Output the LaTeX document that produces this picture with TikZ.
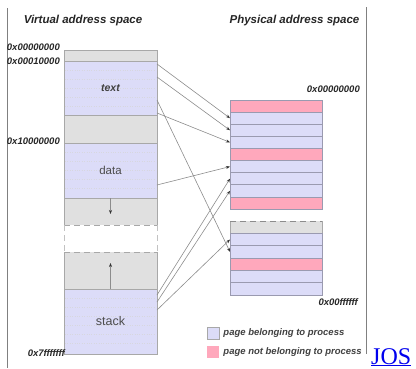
\documentclass[tikz,border=0pt]{standalone}
\usepackage{fontspec}
\setmainfont{Liberation Sans}
\newfontfamily\linkfont{Liberation Serif}
\usepackage{tikz}
\usetikzlibrary{arrows.meta,positioning}

\definecolor{pageown}{HTML}{DCDCF8}
\definecolor{pageother}{HTML}{FFA8BC}
\definecolor{unused}{HTML}{E0E0E0}
\definecolor{blockline}{HTML}{A8A8A8}
\definecolor{rowline}{HTML}{9A9AB0}
\definecolor{linkblue}{HTML}{0000EE}

\begin{document}
\begin{tikzpicture}[x=1pt,y=-1pt,
    >={Stealth[length=4pt,width=3pt,color=black!80]},
    map/.style={->,draw=black!45,line width=0.6pt},
    vblock/.style={draw=blockline,line width=0.6pt,minimum width=93pt,inner sep=0pt,outer sep=0pt,
                   font=\fontsize{11}{11}\selectfont,text=black!75},
    prow/.style={draw=rowline,line width=0.6pt,minimum width=92pt,minimum height=12.1pt,inner sep=0pt,outer sep=0pt},
    dashpat/.style={dash pattern=on 6pt off 4pt},
    pagegrid/.style={draw=rowline!40,dotted,line width=0.4pt},
    addr/.style={font=\bfseries\itshape\fontsize{9.5}{10}\selectfont,text=black!85,inner sep=0pt},
    heading/.style={font=\bfseries\itshape\fontsize{11.5}{12}\selectfont,text=black!85,inner sep=0pt},
    keybox/.style={draw=blockline,line width=0.5pt,minimum size=12pt,inner sep=0pt},
    keytext/.style={font=\bfseries\itshape\fontsize{9.5}{10}\selectfont,text=black!75,inner sep=0pt}]
  \useasboundingbox (0,0) rectangle (416,368);

  % side rules
  \draw[black!50,line width=0.8pt] (7,8) -- (7,368);
  \draw[black!50,line width=0.8pt] (366,7) -- (366,354);

  \node[heading] (vtitle) at (83,21) {Virtual address space};
  \node[heading] (ptitle) at (294.5,21) {Physical address space};

  % virtual address space
  \node[vblock,fill=unused,minimum height=11pt] (hdr) at (110.5,55.5) {};
  \node[vblock,fill=pageown,minimum height=54pt] (text) at (110.5,88) {};
  \node[vblock,fill=unused,minimum height=28pt] (gap) at (110.5,129) {};
  \node[vblock,fill=pageown,minimum height=55pt] (data) at (110.5,170.5) {};
  \node[vblock,fill=unused,draw=none,minimum height=27pt] (heap) at (110.5,211.5) {};
  \node[vblock,fill=unused,draw=none,minimum height=37pt] (grow) at (110.5,270.5) {};
  \node[vblock,fill=pageown,minimum height=65pt] (stack) at (110.5,321.5) {};

  \foreach \y in {70,79,...,106} \draw[pagegrid] (65,\y) -- (156,\y);
  \foreach \y in {152,161,...,189} \draw[pagegrid] (65,\y) -- (156,\y);
  \foreach \y in {298,307,...,345} \draw[pagegrid] (65,\y) -- (156,\y);

  \node[font=\bfseries\itshape\fontsize{10.5}{11}\selectfont,text=black!75] at (text) {text};
  \node[font=\fontsize{11.5}{12}\selectfont,text=black!70] at (data) {data};
  \node[font=\fontsize{12.5}{13}\selectfont,text=black!70] at (stack) {stack};

  \draw[blockline,line width=0.6pt] (heap.south west) -- (heap.north west) -- (heap.north east) -- (heap.south east);
  \draw[blockline,line width=0.6pt,dashpat] (heap.south west) -- (heap.south east);
  \draw[blockline!70,line width=0.6pt,dashpat] (heap.south west) -- (grow.north west);
  \draw[blockline!70,line width=0.6pt,dashpat] (heap.south east) -- (grow.north east);
  \draw[blockline,line width=0.6pt] (grow.north west) -- (grow.south west) -- (grow.south east) -- (grow.north east);
  \draw[blockline,line width=0.6pt,dashpat] (grow.north west) -- (grow.north east);

  \coordinate (heapend) at (110.5,214);
  \coordinate (growend) at (110.5,263);
  \draw[map] (heap.north) -- (heapend);
  \draw[map] (grow.south) -- (growend);

  \node[addr,anchor=east] (v0) at (60,47) {0x00000000};
  \node[addr,anchor=east] (v1) at (60,61.5) {0x00010000};
  \node[addr,anchor=east] (v2) at (60,141) {0x10000000};
  \node[addr,anchor=east] (v3) at (65,353) {0x7fffffff};

  % physical address space
  \foreach \i/\c in {1/pageother,2/pageown,3/pageown,4/pageown,5/pageother,6/pageown,7/pageown,8/pageown,9/pageother}
    \node[prow,fill=\c] (pg\i) at (276,{100+12.1*\i-6.05}) {};
  \node[prow,fill=unused,draw=none,minimum height=12.33pt] (lo1) at (276,227.17) {};
  \foreach \i/\c in {2/pageown,3/pageown,4/pageother,5/pageown,6/pageown}
    \node[prow,fill=\c,minimum height=12.33pt] (lo\i) at (276,{221+12.33*\i-6.17}) {};
  \draw[blockline,line width=0.6pt] (lo1.north west) -- (lo1.south west);
  \draw[blockline,line width=0.6pt] (lo1.north east) -- (lo1.south east);
  \draw[black!45,line width=0.6pt,dashpat] (lo1.north west) -- (lo1.north east);

  \node[addr,anchor=east] (p0) at (360,89) {0x00000000};
  \node[addr,anchor=east] (p1) at (358,302) {0x00ffffff};

  % page mappings
  \coordinate (t1) at (157,64);
  \coordinate (t2) at (157,77);
  \coordinate (t3) at (157,100);
  \coordinate (t4) at (157,113);
  \coordinate (d1) at (157,185);
  \coordinate (s1) at (157,295);
  \coordinate (s2) at (157,302);
  \coordinate (s3) at (157,310);
  \draw[map] (t1) -- (pg2.west);
  \draw[map] (t2) -- (pg3.west);
  \draw[map] (t4) -- (pg4.west);
  \draw[map] (t3) -- (lo3.west);
  \draw[map] (d1) -- (pg6.west);
  \draw[map] (s1) -- (pg7.west);
  \draw[map] (s2) -- (pg8.west);
  \draw[map] (s3) -- (lo2.west);

  % key
  \node[keybox,fill=pageown] (keyown) at (213,333) {};
  \node[keybox,fill=pageother,draw=none] (keyother) at (213,352) {};
  \node[keytext,right=4pt of keyown] (ownlabel) {page belonging to process};
  \node[keytext,right=4pt of keyother] (otherlabel) {page not belonging to process};

  \node[anchor=base west,inner sep=0pt,font=\linkfont\fontsize{24}{24}\selectfont,text=linkblue] (jos) at (371,364) {\underline{JOS}};
\end{tikzpicture}
\end{document}
